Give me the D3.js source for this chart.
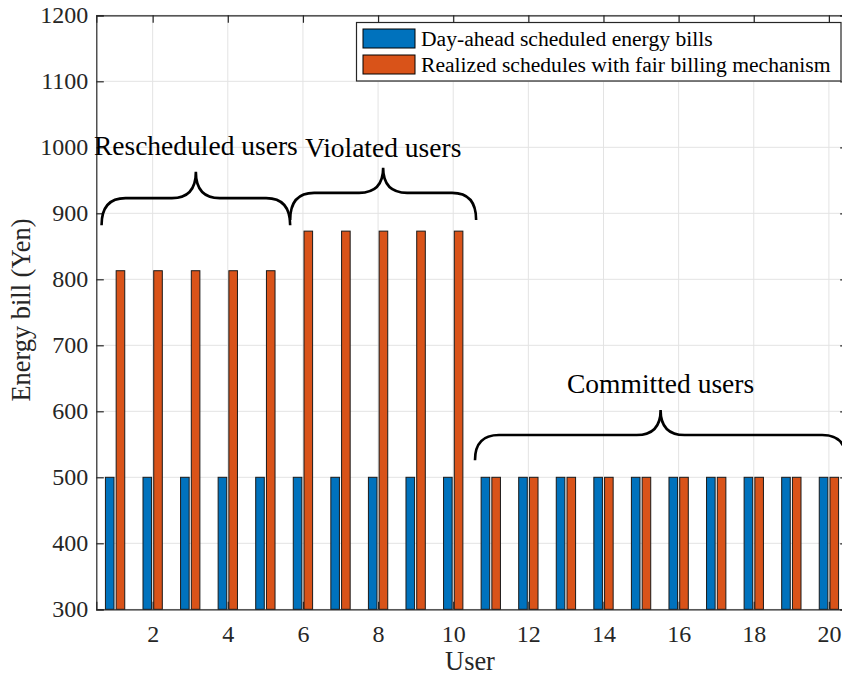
<!DOCTYPE html>
<html>
<head>
<meta charset="utf-8">
<script src="https://cdn.jsdelivr.net/npm/d3@7"></script>
<style>
  body { margin: 0; background: #fff; }
  text { font-family: "Liberation Serif", "Times New Roman", serif; fill: #262626; }
</style>
</head>
<body>
<div id="chart"></div>
<script>
// data
var users = d3.range(1, 21);
var seriesNames = ["Day-ahead scheduled energy bills", "Realized schedules with fair billing mechanism"];
var dayAhead = [500, 500, 500, 500, 500, 500, 500, 500, 500, 500,
                500, 500, 500, 500, 500, 500, 500, 500, 500, 500];
var realized = [813, 813, 813, 813, 813, 873, 873, 873, 873, 873,
                500, 500, 500, 500, 500, 500, 500, 500, 500, 500];
var xTicks = [2, 4, 6, 8, 10, 12, 14, 16, 18, 20];
var yTicks = [300, 400, 500, 600, 700, 800, 900, 1000, 1100, 1200];

// braces: x from/to in user units, y in Yen (end, bar, tip)
var braces = [
  { label: "Rescheduled users", x0: 0.64, x1: 5.66, yEnd: 882, yBar: 923, yTip: 963, yText: 988 },
  { label: "Violated users", x0: 5.66, x1: 10.61, yEnd: 890, yBar: 931, yTip: 969, yText: 986 },
  { label: "Committed users", x0: 10.58, x1: 20.46, yEnd: 526, yBar: 564, yTip: 602, yText: 627 }
];

var colors = ["#0072BD", "#D95319"];
var serif = '"Liberation Serif", "Times New Roman", serif';

// svg container
var svgWidth = 842;
var svgHeight = 676;

var margin = { top: 15.3, left: 96.3 };
var chartWidth = 751.4;
var chartHeight = 594;

var svg = d3.select("#chart").append("svg")
  .attr("width", svgWidth)
  .attr("height", svgHeight);

var chartGroup = svg.append("g")
  .attr("transform", `translate(${margin.left}, ${margin.top})`);

// scales
var xScale = d3.scaleLinear()
  .domain([0.5, 20.5])
  .range([0, chartWidth]);

var yScale = d3.scaleLinear()
  .domain([300, 1200])
  .range([chartHeight, 0]);

// MATLAB style grouped bar offsets
var groupWidth = 2 / 3.5;
var subScale = d3.scaleBand()
  .domain([0, 1])
  .range([-groupWidth / 2, groupWidth / 2])
  .paddingInner(0.2)
  .paddingOuter(0.1);

// grid
chartGroup.append("g")
  .selectAll("line")
  .data(yTicks)
  .enter()
  .append("line")
  .attr("x1", 0)
  .attr("x2", chartWidth)
  .attr("y1", d => yScale(d))
  .attr("y2", d => yScale(d))
  .attr("stroke", "#e3e3e3")
  .attr("stroke-width", 1);

chartGroup.append("g")
  .selectAll("line")
  .data(xTicks)
  .enter()
  .append("line")
  .attr("x1", d => xScale(d))
  .attr("x2", d => xScale(d))
  .attr("y1", 0)
  .attr("y2", chartHeight)
  .attr("stroke", "#e3e3e3")
  .attr("stroke-width", 1);

// bars
var barData = [];
users.forEach(function(u, i) {
  barData.push({ user: u, s: 0, value: dayAhead[i] });
  barData.push({ user: u, s: 1, value: realized[i] });
});

chartGroup.append("g")
  .selectAll("rect")
  .data(barData)
  .enter()
  .append("rect")
  .attr("x", d => xScale(d.user + subScale(d.s)))
  .attr("width", d => xScale(d.user + subScale(d.s) + subScale.bandwidth()) - xScale(d.user + subScale(d.s)))
  .attr("y", d => yScale(d.value))
  .attr("height", d => yScale(300) - yScale(d.value))
  .attr("fill", d => colors[d.s])
  .attr("stroke", "#1a1a1a")
  .attr("stroke-width", 1);

// axes
var xAxis = d3.axisBottom(xScale).tickValues(xTicks).tickSize(-7.5).tickPadding(15.5).tickFormat(d3.format("d"));
var yAxis = d3.axisLeft(yScale).tickValues(yTicks).tickSize(-7.5).tickPadding(8).tickFormat(d3.format("d"));

chartGroup.append("g")
  .attr("transform", `translate(0, ${chartHeight})`)
  .call(xAxis);

chartGroup.append("g")
  .call(yAxis);

chartGroup.append("g")
  .call(d3.axisTop(xScale).tickValues(xTicks).tickSize(-7.5).tickFormat(""));

chartGroup.append("g")
  .attr("transform", `translate(${chartWidth}, 0)`)
  .call(d3.axisRight(yScale).tickValues(yTicks).tickSize(-7.5).tickFormat(""));

chartGroup.selectAll(".domain, .tick line")
  .attr("stroke", "#262626")
  .attr("stroke-width", 1.2);

chartGroup.selectAll(".tick text")
  .style("font-family", serif)
  .style("font-size", "24px")
  .attr("fill", "#262626");

// braces
function bracePath(b) {
  var x0 = xScale(b.x0), x1 = xScale(b.x1), xm = (x0 + x1) / 2;
  var ye = yScale(b.yEnd), yb = yScale(b.yBar), yt = yScale(b.yTip);
  var r = 24;
  return `M${x0},${ye} Q${x0},${yb} ${x0 + r},${yb} L${xm - r},${yb} Q${xm},${yb} ${xm},${yt}` +
    ` Q${xm},${yb} ${xm + r},${yb} L${x1 - r},${yb} Q${x1},${yb} ${x1},${ye}`;
}

chartGroup.append("g")
  .selectAll("path")
  .data(braces)
  .enter()
  .append("path")
  .attr("d", bracePath)
  .attr("fill", "none")
  .attr("stroke", "#000")
  .attr("stroke-width", 2.6);

chartGroup.append("g")
  .selectAll("text")
  .data(braces)
  .enter()
  .append("text")
  .attr("x", d => xScale((d.x0 + d.x1) / 2))
  .attr("y", d => yScale(d.yText))
  .attr("text-anchor", "middle")
  .style("font-size", "27.5px")
  .style("fill", "#000")
  .text(d => d.label);

// axis labels
svg.append("text")
  .attr("transform", "translate(30, 310) rotate(-90)")
  .attr("text-anchor", "middle")
  .style("font-size", "26.4px")
  .text("Energy bill (Yen)");

svg.append("text")
  .attr("x", 470)
  .attr("y", 670)
  .attr("text-anchor", "middle")
  .style("font-size", "26.4px")
  .text("User");

// legend
var legend = svg.append("g");

legend.append("rect")
  .attr("x", 356.5)
  .attr("y", 22.5)
  .attr("width", 484.5)
  .attr("height", 58.5)
  .attr("fill", "#fff")
  .attr("stroke", "#262626")
  .attr("stroke-width", 1.2);

var legendItems = legend.selectAll(".item")
  .data(seriesNames)
  .enter()
  .append("g")
  .attr("class", "item")
  .attr("transform", (d, i) => `translate(363, ${29 + i * 26})`);

legendItems.append("rect")
  .attr("width", 52)
  .attr("height", 19)
  .attr("fill", (d, i) => colors[i])
  .attr("stroke", "#000")
  .attr("stroke-width", 1);

legendItems.append("text")
  .attr("x", 58)
  .attr("y", 17)
  .style("font-size", "21.6px")
  .style("fill", "#000")
  .text(d => d);
</script>
</body>
</html>
